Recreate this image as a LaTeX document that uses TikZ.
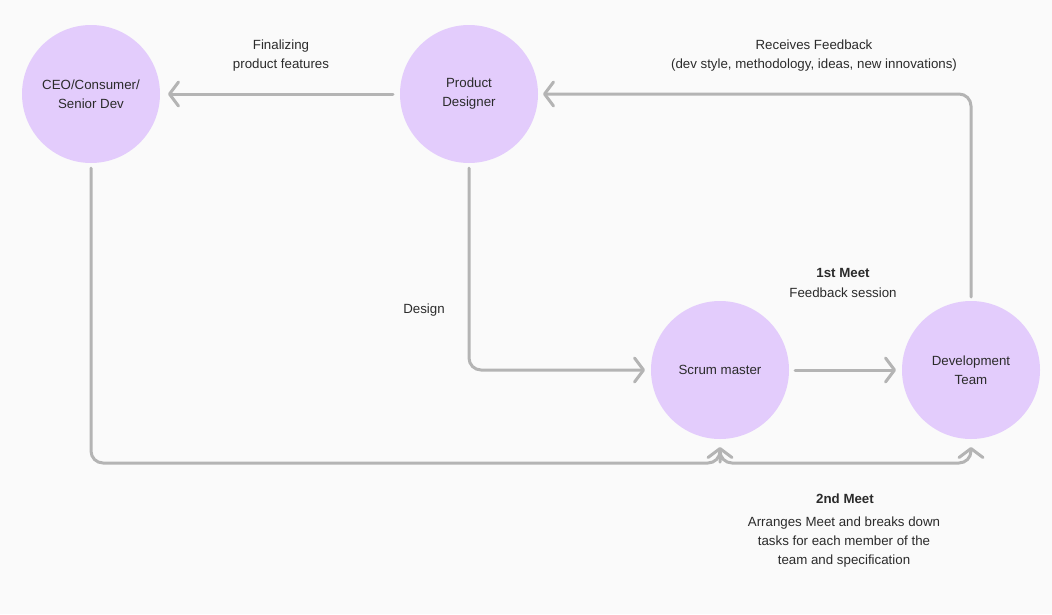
\documentclass[tikz,border=0pt]{standalone}
\usepackage{fontspec}
\setmainfont{Liberation Sans}
\usetikzlibrary{arrows.meta}
\definecolor{bg}{HTML}{FAFAFA}
\definecolor{nodefill}{HTML}{E3CCFC}
\definecolor{linegrey}{HTML}{B4B4B4}
\definecolor{txt}{HTML}{2B2B2B}
\tikzset{
  actor/.style={circle, fill=nodefill, minimum size=138pt, inner sep=0pt, align=center, text=txt, font=\fontsize{13.3}{19}\selectfont},
  lbl/.style={align=center, text=txt, font=\fontsize{13.3}{19}\selectfont, inner sep=0pt},
  conn/.style={draw=linegrey, line width=3pt, rounded corners=12pt, line cap=round, line join=round,
    -{Straight Barb[length=9pt,width=24pt,line width=3pt,round]}},
}
\begin{document}
\begin{tikzpicture}[x=1pt,y=-1pt]
\fill[bg] (0,0) rectangle (1052,614);
\useasboundingbox (0,0) rectangle (1052,614);

\node[actor] (ceo) at (91,94) {CEO/Consumer/\\Senior Dev};
\node[actor] (pd) at (469,94) {Product\\Designer};
\node[actor] (sm) at (720,370) {Scrum master};
\node[actor] (dev) at (971,370) {Development\\Team};

\coordinate (ceoS) at (91,168);
\coordinate (pdS) at (469,168);
\coordinate (devN) at (971,297);
\coordinate (smB) at (720,447);
\coordinate (devB) at (971,447);
\coordinate (smJ) at (720,462);

\draw[conn] (393,94) -- (168,94);
\draw[conn] (devN) -- (971,94) -- (543,94);
\draw[conn] (pdS) -- (469,370) -- (645,370);
\draw[conn] (795,370) -- (896,370);
\draw[conn] (ceoS) -- (91,463) -- (720,463) -- (smB);
\draw[conn] (smJ) -- (720,463) -- (971,463) -- (devB);

\node[lbl] (l1) at (281,56) {Finalizing\\product features};
\node[lbl] (l2) at (814,56) {Receives Feedback\\(dev style, methodology, ideas, new innovations)};
\node[lbl] (l3) at (843,282.5) {\textbf{1st Meet}\\[1pt]Feedback session};
\node[lbl] (l4) at (424,310.5) {Design};
\node[lbl] (l5) at (845,498.5) {\textbf{2nd Meet}};
\node[lbl] (l6) at (844,542.5) {Arranges Meet and breaks down\\tasks for each member of the\\team and specification};
\end{tikzpicture}
\end{document}
